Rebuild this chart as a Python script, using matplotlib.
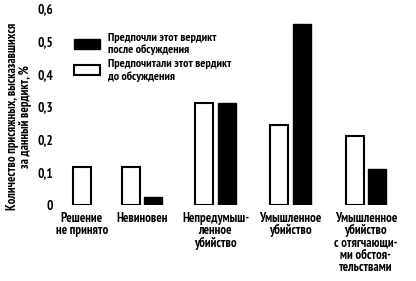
import matplotlib.pyplot as plt
from matplotlib.patches import Patch

categories = ['Решение\nне принято', 'Невиновен', 'Непредумыш-\nленное\nубийство',
              'Умышленное\nубийство', 'Умышленное\nубийство\nс отягчающи-\nми обстоя-\nтельствами']
before = [0.115, 0.115, 0.31, 0.245, 0.21]
after = [None, 0.025, 0.31, 0.55, 0.11]
yticks = [0, 0.1, 0.2, 0.3, 0.4, 0.5, 0.6]
yticklabels = ['0', '0,1', '0,2', '0,3', '0,4', '0,5', '0,6']

plt.rcParams['font.family'] = ['PT Sans Narrow', 'DejaVu Sans']
plt.rcParams['font.weight'] = 'bold'

fig = plt.figure(figsize=(4.16, 2.81), dpi=100)
ax = fig.add_axes([0.144, 0.27, 0.842, 0.702])

# white bar positions (group layout is uneven in the original)
xw = [0, 0.65, 1.63, 2.63, 3.63]
w = 0.24
off = 0.30
for i in range(len(categories)):
    ax.bar(xw[i], before[i], width=w, color='white', edgecolor='black', linewidth=1.5)
    if after[i] is not None:
        ax.bar(xw[i] + off, after[i], width=w, color='black', edgecolor='black', linewidth=1.0)

labx = [xw[0]] + [x + off / 2 for x in xw[1:]]
ax.set_xticks(labx)
ax.set_xticklabels(categories, fontsize=9.3, fontweight='bold', linespacing=0.92, va='top')
ax.set_yticks(yticks)
ax.set_yticklabels(yticklabels, fontsize=9.5, fontweight='bold')
ax.tick_params(length=0, pad=5)
ax.set_xlim(-0.29, 4.37)
ax.set_ylim(0, 0.6)
for s in ax.spines.values():
    s.set_visible(False)

handles = [Patch(facecolor='black', edgecolor='black'),
           Patch(facecolor='white', edgecolor='black', linewidth=1.5)]
ax.legend(handles, ['Предпочли этот вердикт\nпосле обсуждения',
                    'Предпочитали этот вердикт\nдо обсуждения'],
          loc='upper left', bbox_to_anchor=(0.01, 0.93), frameon=False,
          handlelength=2.1, handleheight=0.9, labelspacing=0.35,
          handletextpad=0.7, prop={'weight': 'bold', 'size': 8.7})

fig.text(0.045, 0.585, 'Количество присяжных, высказавшихся\nза данный вердикт, %',
         rotation=90, ha='center', va='center', fontsize=9.2, fontweight='bold',
         linespacing=1.0)

fig.savefig('out.png', dpi=100)
